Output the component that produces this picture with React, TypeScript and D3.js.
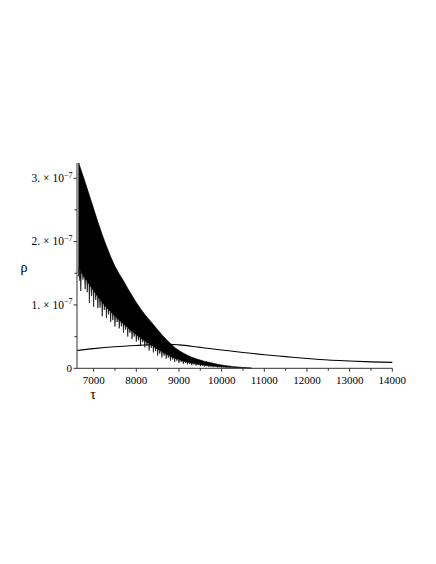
import React from "react";
import * as d3 from "d3";

// ---- data (rho in units of 1e-7) ----
const bandTau = [6650, 6700, 6800, 6900, 7000, 7100, 7200, 7300, 7400, 7500, 7600, 7700, 7800, 7900, 8000, 8100, 8200, 8300, 8400, 8500, 8600, 8700, 8800, 8900, 9000, 9100, 9200, 9300, 9400, 9500, 9600, 9700, 9800, 9900, 10000, 10100, 10200, 10300, 10400, 10500, 10600, 10700];
const bandUpper = [3.24, 3.14, 2.94, 2.73, 2.52, 2.31, 2.11, 1.93, 1.76, 1.61, 1.49, 1.38, 1.26, 1.15, 1.04, 0.94, 0.85, 0.77, 0.69, 0.61, 0.53, 0.46, 0.39, 0.33, 0.28, 0.24, 0.205, 0.175, 0.15, 0.13, 0.11, 0.095, 0.08, 0.065, 0.052, 0.042, 0.034, 0.026, 0.02, 0.014, 0.009, 0.005];
const bandSolid = [1.62, 1.52, 1.42, 1.32, 1.22, 1.13, 1.04, 0.96, 0.89, 0.82, 0.76, 0.7, 0.64, 0.58, 0.53, 0.48, 0.43, 0.39, 0.35, 0.3, 0.26, 0.225, 0.19, 0.16, 0.135, 0.115, 0.096, 0.082, 0.07, 0.058, 0.048, 0.04, 0.033, 0.027, 0.021, 0.017, 0.013, 0.01, 0.008, 0.006, 0.004, 0.002];
const bandTip = [1.45, 1.22, 1.25, 1.03, 0.97, 0.95, 0.82, 0.79, 0.73, 0.66, 0.63, 0.56, 0.5, 0.46, 0.42, 0.36, 0.33, 0.28, 0.25, 0.2, 0.17, 0.15, 0.12, 0.1, 0.082, 0.07, 0.06, 0.05, 0.042, 0.033, 0.028, 0.023, 0.018, 0.014, 0.011, 0.009, 0.007, 0.005, 0.004, 0.003, 0.002, 0.001];
const bandMidTip = [1.38, 1.4, 1.2, 1.14, 1.08, 0.96, 0.92, 0.85, 0.76, 0.73, 0.66, 0.61, 0.56, 0.5, 0.44, 0.41, 0.36, 0.32, 0.27, 0.23, 0.2, 0.17, 0.14, 0.12, 0.1, 0.085, 0.07, 0.06, 0.05, 0.042, 0.034, 0.028, 0.022, 0.018, 0.014, 0.011, 0.009, 0.007, 0.005, 0.003, 0.002, 0.001];

const smoothTau = [6610, 7000, 7500, 8000, 8500, 8800, 9000, 9500, 10000, 10500, 11000, 11500, 12000, 12500, 13000, 13500, 14000];
const smoothRho = [0.28, 0.31, 0.34, 0.36, 0.375, 0.378, 0.37, 0.33, 0.29, 0.25, 0.215, 0.185, 0.155, 0.13, 0.115, 0.102, 0.093];

const xMajor = [7000, 8000, 9000, 10000, 11000, 12000, 13000, 14000];
const xMinor = [7500, 8500, 9500, 10500, 11500, 12500, 13500];
const yMajor = [0, 1, 2, 3];
const yMinor = [0.5, 1.5, 2.5];

const FONT = '"Liberation Serif", "DejaVu Serif", serif';

export default function App() {
  const x = d3.scaleLinear().domain([6610, 14000]).range([77, 392.3]);
  const y = d3.scaleLinear().domain([0, 3.24]).range([368.3, 163]);
  const upperAt = d3.scaleLinear().domain(bandTau).range(bandUpper);
  const solidAt = d3.scaleLinear().domain(bandTau).range(bandSolid);

  // band polygon: upper edge left->right, spiky lower edge right->left
  const pts: [number, number][] = [];
  bandTau.forEach((t, i) => pts.push([t, bandUpper[i]]));
  const n = bandTau.length;
  for (let i = n - 1; i >= 0; i--) {
    const t = bandTau[i];
    if (i < n - 1) {
      const tm = (t + bandTau[i + 1]) / 2;
      pts.push([tm + 10, Math.min(solidAt(tm + 10), upperAt(tm + 10))]);
      pts.push([tm, bandMidTip[i]]);
      pts.push([tm - 10, Math.min(solidAt(tm - 10), upperAt(tm - 10))]);
      pts.push([t + 10, Math.min(solidAt(t + 10), upperAt(t + 10))]);
    }
    pts.push([t, bandTip[i]]);
    if (i > 0) pts.push([t - 10, Math.min(solidAt(t - 10), upperAt(t - 10))]);
  }
  const poly = d3.line<[number, number]>().x((d) => x(d[0])).y((d) => y(d[1]));
  const bandPath = poly(pts) + "Z";

  const smoothLine = d3
    .line<number>()
    .x((_, i) => x(smoothTau[i]))
    .y((d) => y(d))
    .curve(d3.curveMonotoneX)(smoothRho);

  const axisColor = "#333";
  const textStyle = { fontFamily: FONT };

  return (
    <svg width={436} height={564} style={{ position: "absolute", left: 0, top: 0, background: "#fff" }}>
      <rect width={436} height={564} fill="#fff" />
      {/* band */}
      <path d={bandPath} fill="#000" stroke="#000" strokeWidth={0.6} strokeLinejoin="round" />
      {/* smooth curve */}
      <path d={smoothLine || ""} fill="none" stroke="#000" strokeWidth={1.1} />
      {/* axes */}
      <line x1={x(6610)} x2={x(14000)} y1={y(0)} y2={y(0)} stroke={axisColor} strokeWidth={1} />
      <line x1={x(6610)} x2={x(6610)} y1={y(0)} y2={y(3.24)} stroke={axisColor} strokeWidth={1} />
      {xMajor.map((t) => (
        <g key={"xm" + t}>
          <line x1={x(t)} x2={x(t)} y1={y(0)} y2={y(0) + 3.5} stroke={axisColor} />
          <text x={x(t)} y={384} textAnchor="middle" style={textStyle} fontSize={11}>
            {t}
          </text>
        </g>
      ))}
      {xMinor.map((t) => (
        <line key={"xn" + t} x1={x(t)} x2={x(t)} y1={y(0)} y2={y(0) + 2.5} stroke={axisColor} />
      ))}
      {yMajor.map((v) => (
        <g key={"ym" + v}>
          <line x1={x(6610) - 3.5} x2={x(6610)} y1={y(v)} y2={y(v)} stroke={axisColor} />
          {v === 0 ? (
            <text x={72} y={y(v) + 3.8} textAnchor="end" style={textStyle} fontSize={11}>
              0
            </text>
          ) : (
            <text x={72.5} y={y(v) + 3.8} textAnchor="end" style={textStyle} fontSize={11.5}>
              {v + ". \u00d7 10"}
              <tspan fontSize={8} dy={-4.5}>
                {"\u22127"}
              </tspan>
            </text>
          )}
        </g>
      ))}
      {yMinor.map((v) => (
        <line key={"yn" + v} x1={x(6610) - 2.5} x2={x(6610)} y1={y(v)} y2={y(v)} stroke={axisColor} />
      ))}
      {/* axis titles */}
      <text x={93} y={399} textAnchor="middle" style={textStyle} fontSize={14}>
        τ
      </text>
      <text x={24} y={272} textAnchor="middle" style={textStyle} fontSize={14}>
        ρ
      </text>
    </svg>
  );
}
